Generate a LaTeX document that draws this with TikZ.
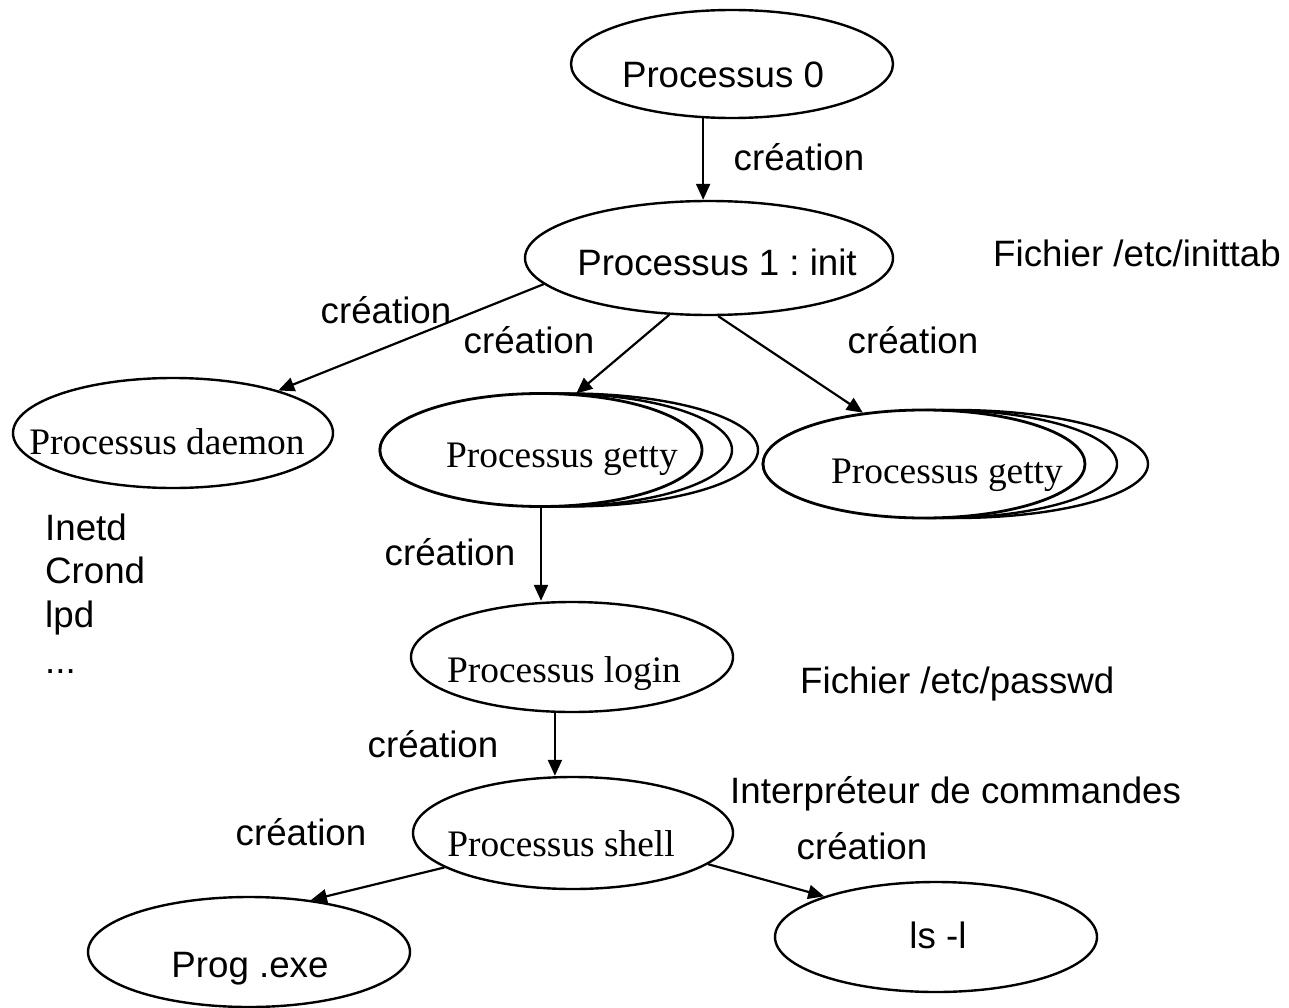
\documentclass[tikz,border=0pt]{standalone}
\usepackage{fontspec}
\setmainfont{Liberation Serif}
\setsansfont{Liberation Sans}
\usetikzlibrary{shapes.geometric,arrows.meta}
\frenchspacing

\tikzset{
  proc/.style={draw, ellipse, line width=2.4pt, fill=white, inner sep=0pt},
  sanstxt/.style={font=\sffamily\fontsize{36.7}{44}\selectfont, inner sep=0pt, anchor=base},
  seriftxt/.style={font=\rmfamily\fontsize{37.4}{44}\selectfont, inner sep=0pt, anchor=base},
  note/.style={sanstxt, anchor=base west},
  arr/.style={-{Triangle[length=16pt,width=14pt]}, line width=2.2pt}
}

\begin{document}
\begin{tikzpicture}[x=1pt,y=-1pt]
  \useasboundingbox (0,0) rectangle (1289,1008);
  \fill[white] (0,0) rectangle (1289,1008);

  % process ellipses
  \node[proc, minimum width=322pt, minimum height=108pt] (p0) at (732,64) {};
  \node[proc, minimum width=368pt, minimum height=114pt] (init) at (709,258) {};
  \node[proc, minimum width=320pt, minimum height=110pt] (daemon) at (173,433) {};

  % getty stacks: widest copy at the back, front one last
  \node[proc, minimum width=378pt, minimum height=113pt] (getty1c) at (569,450) {};
  \node[proc, minimum width=352pt, minimum height=113pt] (getty1b) at (556,450) {};
  \node[proc, minimum width=322pt, minimum height=113pt, line width=2.8pt] (getty1) at (541,450) {};

  \node[proc, minimum width=385pt, minimum height=108pt] (getty2c) at (955.5,464) {};
  \node[proc, minimum width=354pt, minimum height=108pt] (getty2b) at (940,464) {};
  \node[proc, minimum width=322pt, minimum height=108pt, line width=2.8pt] (getty2) at (924,464) {};

  \node[proc, minimum width=322pt, minimum height=110pt] (login) at (572,657) {};
  \node[proc, minimum width=320pt, minimum height=112pt] (shell) at (573,833) {};
  \node[proc, minimum width=322pt, minimum height=110pt] (prog) at (249,952) {};
  \node[proc, minimum width=322pt, minimum height=110pt] (ls) at (936,937) {};

  % ellipse captions
  \node[sanstxt] (p0t) at (723,88) {Processus 0};
  \node[sanstxt] (initt) at (717,275) {Processus 1 : init};
  \node[seriftxt] (daemont) at (167,454) {Processus daemon};
  \node[seriftxt] (getty1t) at (562,467) {Processus getty};
  \node[seriftxt] (getty2t) at (947,483) {Processus getty};
  \node[seriftxt] (logint) at (564,682) {Processus login};
  \node[seriftxt] (shellt) at (561,856) {Processus shell};
  \node[sanstxt] (progt) at (250,977) {Prog .exe};
  \node[sanstxt] (lst) at (938,948) {ls -l};

  % creation arrows
  \draw[arr] (p0.-118.6) -- (p0.-118.6 |- init.north);
  \draw[arr] (init.-171.8) -- (daemon.22.9);
  \draw[arr] (init.-125.3) -- (getty1.58.3);
  \draw[arr] (init.-81.7) -- (getty2.140.7);
  \draw[arr] (getty1.south) -- (getty1.south |- login.north);
  \draw[arr] (login.-107.3) -- (login.-107.3 |- shell.north);
  \draw[arr] (shell.-165.7) -- (prog.40.2);
  \draw[arr] (shell.-13.4) -- (ls.160.96);

  % arrow labels
  \node[sanstxt] (c1) at (799,171) {création};
  \node[sanstxt] (c2) at (386,323) {création};
  \node[sanstxt] (c3) at (529,353) {création};
  \node[sanstxt] (c4) at (913,353) {création};
  \node[sanstxt] (c5) at (450,565) {création};
  \node[sanstxt] (c6) at (433,757) {création};
  \node[sanstxt] (c7) at (301,845) {création};
  \node[sanstxt] (c8) at (862,859) {création};

  % side notes
  \node[note] (inittab) at (993,266) {Fichier /etc/inittab};
  \node[note] (passwd) at (800,693) {Fichier /etc/passwd};
  \node[note] (interp) at (730,803) {Interpréteur de commandes};

  % daemon examples
  \node[note] (d1) at (45,540) {Inetd};
  \node[note] (d2) at (45,583) {Crond};
  \node[note] (d3) at (45,627) {lpd};
  \node[note] (d4) at (45,673) {...};
\end{tikzpicture}
\end{document}
